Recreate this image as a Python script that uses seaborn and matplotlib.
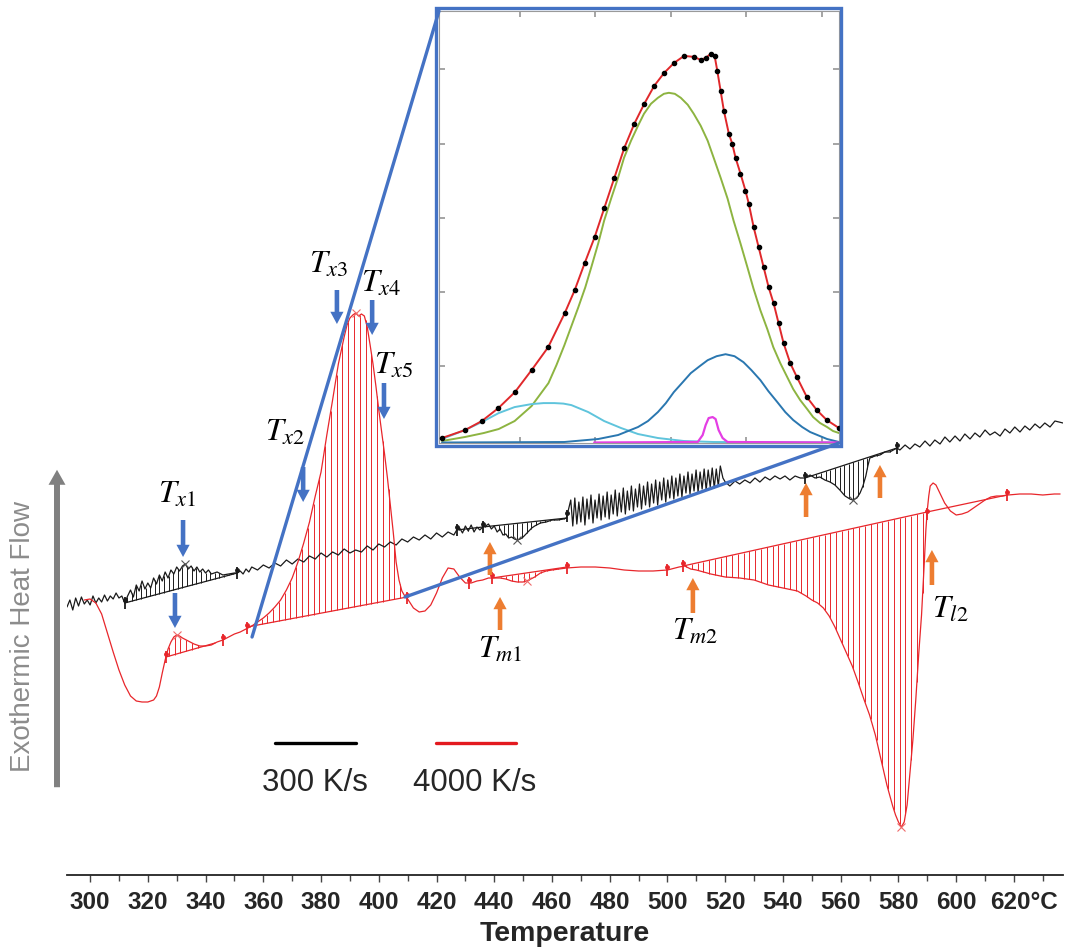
import numpy as np
import matplotlib
matplotlib.use("Agg")
import matplotlib.pyplot as plt
import seaborn as sns
from matplotlib.patches import FancyArrowPatch, ArrowStyle, Rectangle, ConnectionPatch
from matplotlib.lines import Line2D

# ---------------- data (temperature in degC, heat flow in arbitrary units) -------------
# 300 K/s curve (black), read piecewise
BLACK_T_A = list(range(292, 343))
BLACK_Y_A = [268, 275, 265, 277, 269, 278, 271, 275, 270, 279, 272, 277, 273, 280, 274, 279,
             276, 282, 277, 279, 272, 279, 285, 278, 290, 284, 294, 286, 292, 287, 297, 291,
             300, 294, 303, 297, 305, 301, 308, 304, 309, 311, 306, 309, 304, 308, 303, 306,
             302, 305, 301]
BLACK_T_B = [344, 346, 348, 350, 351, 352, 353, 354, 355, 356, 358, 360, 362, 364, 366, 368,
             370, 372, 374, 376, 378, 380, 382, 384, 386, 388, 390, 392, 394, 396, 398, 400,
             402, 404, 406, 408, 410, 412, 414, 416, 418, 420, 422, 424, 426]
BLACK_Y_B = [303, 300, 301, 302, 302, 304, 301, 306, 303, 308, 305, 310, 307, 312, 309, 315,
             311, 316, 313, 319, 316, 322, 318, 323, 320, 326, 322, 325, 323, 329, 325, 331,
             328, 333, 330, 336, 333, 338, 335, 340, 336, 342, 338, 343, 340]
BLACK_T_C = [427, 428, 429, 430, 431, 432, 433, 434, 435, 436, 437, 438, 439, 440, 441, 442,
             443, 444, 445, 446, 447, 448, 449, 450, 451, 452, 453, 454, 456, 458, 460, 462,
             464, 465]
BLACK_Y_C = [345, 347, 342, 349, 344, 350, 343, 348, 345, 348, 349, 351, 346, 349, 343, 346,
             340, 341, 337, 338, 336, 335, 336, 338, 341, 344, 347, 349, 352, 353, 355, 355,
             356, 357]
BLACK_T_D = [466.5, 467.2, 467.9, 468.6, 469.3, 470.0, 470.7, 471.4, 472.1, 472.8, 473.5,
             474.2, 474.9, 475.6, 476.3, 477.0, 477.7, 478.4, 479.1, 479.8, 480.5, 481.2,
             481.9, 482.6, 483.3, 484.0, 484.7, 485.4, 486.1, 486.8, 487.5, 488.2, 488.9,
             489.6, 490.3, 491.0, 491.7, 492.4, 493.1, 493.8, 494.5, 495.2, 495.9, 496.6,
             497.3, 498.0, 498.7, 499.4, 500.1, 500.8, 501.5, 502.2, 502.9, 503.6, 504.3,
             505.0, 505.7, 506.4, 507.1, 507.8, 508.5, 509.2, 509.9, 510.6, 511.3, 512.0,
             512.7, 513.4, 514.1, 514.8, 515.5, 516.2, 516.9, 517.6, 518.3]
BLACK_Y_D = [375, 349, 377, 351, 373, 353, 378, 350, 376, 356, 380, 352, 375, 357, 381, 355,
             379, 358, 383, 356, 380, 361, 385, 359, 382, 363, 387, 361, 384, 365, 389, 364,
             386, 368, 391, 366, 389, 370, 393, 368, 391, 372, 395, 370, 393, 375, 397, 373,
             395, 377, 399, 376, 397, 379, 401, 378, 399, 382, 403, 381, 401, 384, 405, 383,
             403, 386, 406, 385, 405, 388, 407, 387, 406, 389, 409]
BLACK_T_E = [519.2, 520, 521.6, 523.4, 525, 526.8, 528.6, 530.3, 532, 533.8, 535.5, 537.2,
             539, 540.7, 542.4, 544.2, 546, 547.6, 549.4, 551.1, 552.8, 554.5, 556.3, 558,
             559.7, 561.5, 563.2, 564.2, 565.6, 566.7, 567.7, 568.7, 569.4, 570.1, 571.9,
             573.6, 575.3, 577, 579.5, 580.5, 582.3, 584, 585.7, 587.4, 589.2, 590.9, 592.6,
             594.4, 596.1, 597.8, 599.6, 601.3, 603, 604.8, 606.5, 608.2, 610, 611.7, 613.4,
             615.2, 616.9, 618.6, 620.3, 622.1, 623.8, 625.5, 627.3, 629, 630.7, 632.5, 634.2,
             637]
BLACK_Y_E = [397, 393, 389, 394, 391, 395, 392, 397, 393, 398, 395, 399, 396, 399, 395, 399,
             397, 397, 400, 397, 398, 395, 393, 390, 385, 379, 376, 375, 377, 382, 389, 399,
             409, 417, 419, 420, 423, 423, 427, 425, 430, 426, 431, 428, 434, 429, 435, 431,
             438, 433, 439, 434, 441, 436, 442, 438, 445, 440, 443, 439, 446, 442, 448, 443,
             449, 445, 451, 447, 452, 448, 454, 452]

# 4000 K/s curve (red)
RED_T = [298, 300, 302, 304, 306, 308, 310, 312, 314, 316, 318, 320, 322, 323, 324, 325, 326,
         327, 328, 329, 330, 331, 332, 334, 336, 338, 340, 342, 344, 346, 348, 350, 352, 354,
         356, 358, 360, 362, 364, 366, 368, 370, 372, 374, 376, 378, 380, 382, 384, 386, 388,
         389, 390, 391, 392, 393, 394, 395, 396, 397, 398, 399, 400, 401, 402, 403, 404, 405,
         406, 407, 408, 409, 410, 412, 414, 416, 418, 420, 422, 424, 426, 428, 430, 432, 434,
         436, 438, 440, 442, 444, 446, 448, 450, 452, 454, 456, 458, 460, 465, 470, 475, 480,
         485, 490, 495, 500, 504, 506, 508, 510, 515, 520, 525, 530, 535, 540, 545, 548, 550,
         552, 554, 556, 558, 560, 562, 564, 566, 568, 570, 572, 574, 576, 578, 579, 580, 581,
         582, 583, 584, 585, 586, 587, 588, 589, 589.5, 590, 590.5, 591, 592, 593, 594, 595,
         596, 598, 600, 602, 604, 606, 608, 610, 612, 614, 616, 618, 622, 626, 630, 634, 636]
RED_Y = [275, 276, 272, 261, 242, 223, 205, 190, 179, 174, 173, 173, 175, 179, 188, 202, 215,
         226, 233, 238, 240, 239, 237, 234, 231, 229, 229, 230, 233, 235, 238, 241, 243, 246,
         249, 253, 257, 262, 268, 275, 285, 297, 313, 332, 353, 379, 403, 440, 475, 511, 538,
         550, 557, 560, 562, 559, 561, 559, 548, 530, 511, 489, 465, 443, 421, 397, 370, 343,
         313, 295, 284, 279, 276, 267, 263, 264, 270, 282, 297, 307, 306, 298, 292, 292, 294,
         295, 297, 297, 297, 296, 294, 293, 293, 295, 298, 302, 304, 305, 307, 308, 308, 307,
         305, 304, 304, 305, 308, 309, 306, 305, 301, 298, 297, 295, 290, 287, 284, 279, 275,
         272, 267, 259, 248, 235, 222, 209, 193, 176, 160, 140, 115, 90, 69, 60, 53, 48,
         53, 70, 102, 135, 175, 220, 260, 315, 345, 365, 379, 389, 392, 390, 384, 378,
         372, 364, 360, 361, 363, 367, 371, 375, 378, 379, 379, 380, 381, 381, 380, 381, 381]

# integration baselines: (T_start, y_start, T_end, y_end)
BLACK_BASELINES = [(312, 272, 351, 302), (427, 345, 436, 348), (436, 348, 465.2, 357),
                   (547.6, 397, 579.5, 427)]
RED_BASELINES = [(326.3, 218, 343.3, 232), (354.4, 248, 409.8, 278), (439.2, 297, 465.2, 308),
                 (505.4, 309, 589.9, 363)]
RED_EXTRA_LINE = (589.9, 363, 617.6, 380)
BLACK_LIMITS = [312, 351, 427, 436, 465.2, 547.6, 579.5]
RED_LIMITS = [326.3, 346.0, 354.4, 409.8, 431.2, 439.2, 465.2, 500.0, 505.4, 589.9, 617.6]
BLACK_PEAKS = [333, 448, 564.2]
RED_PEAKS = [330, 392, 451.3, 581]

# characteristic temperatures (arrows and labels)
DOWN_T = [332.2, 329.4, 373.8, 385.5, 397.7, 401.8]
DOWN_FROM = [355, 282, 408, 585, 575, 492]
DOWN_TO = [318, 247, 373, 551, 540, 456]
UP_T = [438.5, 442.0, 508.8, 548.0, 573.6, 591.6]
UP_FROM = [300, 245, 262, 358, 377, 290]
UP_TO = [333, 278, 297, 392, 410, 325]
LABEL_TEXT = [r"$T_{x1}$", r"$T_{x2}$", r"$T_{x3}$", r"$T_{x4}$", r"$T_{x5}$",
              r"$T_{m1}$", r"$T_{m2}$", r"$T_{l2}$"]
LABEL_T = [330.1, 367.5, 382.8, 400.8, 405.3, 442.0, 509.5, 597.8]
LABEL_Y = [380, 442, 610, 591, 509, 225, 243, 265]

TICKS = list(range(300, 621, 20))
TICK_LABELS = [str(t) for t in TICKS[:-1]] + ["620°C"]
SERIES_NAMES = ["300 K/s", "4000 K/s"]

# inset: peak deconvolution (arbitrary units)
FIT_X = [3, 26.3, 43, 59.7, 76.3, 93, 109.7, 126.3, 136.3, 146.3, 156.3, 166.3, 176.3, 186.3,
         196.3, 206.3, 216.3, 226.3, 236.3, 246.3, 256.3, 263, 268, 273, 277, 279.7, 283,
         286.3, 291.3, 294.7, 298, 303, 308, 311.3, 316.3, 321.3, 326.3, 331.3, 336.3, 341.3,
         346.3, 353, 359.7, 369.7, 379.7, 389.7, 402]
FIT_Y = [5, 13, 22, 35, 51, 73, 96, 130, 153, 180, 206, 236, 266, 296, 320, 340, 358, 371,
         381, 388, 387, 384, 386, 390, 388, 373, 353, 333, 310, 300, 286, 270, 253, 240, 216,
         196, 176, 156, 140, 120, 100, 80, 66, 46, 33, 23, 15]
GREEN_X = [3, 26, 45, 60, 76, 93, 110, 118, 126, 133, 140, 147, 153, 160, 166, 173, 180, 186,
           193, 200, 206, 213, 220, 226, 231, 237, 243, 250, 256, 263, 270, 276, 283, 290, 296,
           303, 310, 316, 323, 330, 336, 343, 350, 356, 363, 370, 376, 383, 390, 396, 402]
GREEN_Y = [2, 6, 10, 14, 22, 37, 60, 78, 98, 117, 136, 156, 176, 200, 223, 245, 266, 286,
           303, 318, 330, 340, 346, 350, 351, 350, 346, 339, 330, 318, 303, 286, 266, 245, 223,
           200, 176, 155, 133, 114, 96, 80, 66, 54, 43, 34, 26, 20, 16, 12, 10]
CYAN_X = [3, 26, 43, 60, 76, 93, 105, 116, 125, 133, 150, 166, 183, 200, 220, 246, 276, 402]
CYAN_Y = [4, 13, 21, 30, 36, 39, 40, 40, 39.5, 38, 31, 22, 15, 9, 5, 2, 1, 0.5]
BLUE_X = [3, 126, 160, 180, 200, 210, 220, 228, 236, 245, 253, 262, 270, 279, 288, 297, 306,
          314, 323, 331, 340, 348, 356, 365, 373, 390, 402]
BLUE_Y = [0.5, 1, 4, 8, 16, 22, 31, 40, 51, 61, 70, 77, 83, 87, 89, 87, 81, 73, 63, 52, 41,
          31, 23, 16, 11, 4, 1]
MAG_X = [156, 260, 265, 268, 271, 275, 278, 281, 285, 290, 402]
MAG_Y = [0.5, 1, 8, 18, 25, 26, 24, 13, 5, 1, 0.5]

# ---------------- styling ----------------
sns.set_theme(style="white")
plt.rcParams["font.family"] = ["Liberation Sans", "DejaVu Sans"]
plt.rcParams["mathtext.fontset"] = "stix"

C_BLACK = "#1a1a1a"
C_RED = "#e8262b"
C_BLUE = "#4472c4"
C_ORANGE = "#ed7d31"
C_GREY = "#808080"

W, H = 1069, 952
fig = plt.figure(figsize=(W / 100, H / 100), dpi=100, facecolor="white")
ax = fig.add_axes([66.7 / W, 77 / H, (1063 - 66.7) / W, 875 / H])
ax.set_xlim(291.9, 637.0)
ax.set_ylim(0, 875)

BLACK_T = BLACK_T_A + BLACK_T_B + BLACK_T_C + BLACK_T_D + BLACK_T_E
BLACK_Y = BLACK_Y_A + BLACK_Y_B + BLACK_Y_C + BLACK_Y_D + BLACK_Y_E

sns.lineplot(x=BLACK_T, y=BLACK_Y, ax=ax, color=C_BLACK, linewidth=0.9,
             estimator=None, sort=False, zorder=3)
sns.lineplot(x=RED_T, y=RED_Y, ax=ax, color=C_RED, linewidth=0.9,
             estimator=None, sort=False, zorder=3)


def hatch(xs, ys, base, step, color, lw):
    x0, y0, x1, y1 = base
    pos = np.arange(x0 + step / 2, x1, step)
    b = y0 + (pos - x0) * (y1 - y0) / (x1 - x0)
    c = np.interp(pos, xs, ys)
    ax.vlines(pos, b, c, color=color, lw=lw, zorder=2)
    ax.plot([x0, x1], [y0, y1], color=color, lw=0.9, zorder=3)


for b in BLACK_BASELINES:
    hatch(BLACK_T, BLACK_Y, b, 1.6, C_BLACK, 0.7)
for b in RED_BASELINES:
    hatch(RED_T, RED_Y, b, 2.0, C_RED, 0.7)
ax.plot(RED_EXTRA_LINE[0::2], RED_EXTRA_LINE[1::2], color=C_RED, lw=0.9, zorder=3)

# integration limit markers and peak markers
for lims, xs, ys, col in [(BLACK_LIMITS, BLACK_T, BLACK_Y, C_BLACK),
                          (RED_LIMITS, RED_T, RED_Y, C_RED)]:
    ly = np.interp(lims, xs, ys)
    ax.plot(lims, ly, ls="none", marker="|", ms=9, mew=1.3, color=col, zorder=4)
    ax.plot(lims, ly + 3, ls="none", marker="o", ms=2.5, color=col, zorder=4)
for pk, xs, ys, col in [(BLACK_PEAKS, BLACK_T, BLACK_Y, "#555555"),
                        (RED_PEAKS, RED_T, RED_Y, "#ef6a6a")]:
    ax.plot(pk, np.interp(pk, xs, ys), ls="none", marker="x", ms=6, mew=0.8,
            color=col, zorder=4)

# arrows
st = ArrowStyle.Simple(head_length=8.8, head_width=9.5, tail_width=3.3)
for xs, y0s, y1s, col in [(DOWN_T, DOWN_FROM, DOWN_TO, C_BLUE),
                          (UP_T, UP_FROM, UP_TO, C_ORANGE)]:
    for x, y0, y1 in zip(xs, y0s, y1s):
        ax.add_patch(FancyArrowPatch((x, y0), (x, y1), arrowstyle=st, mutation_scale=1,
                                     color=col, lw=0, shrinkA=0, shrinkB=0, zorder=6))
for t, x, y in zip(LABEL_TEXT, LABEL_T, LABEL_Y):
    ax.text(x, y, t, fontsize=23, ha="center", va="center", color="black", zorder=7)

# axes cosmetics
for s in ["left", "top", "right"]:
    ax.spines[s].set_visible(False)
ax.spines["bottom"].set_color("#222222")
ax.spines["bottom"].set_linewidth(1.3)
ax.set_yticks([])
ax.set_xticks(TICKS)
ax.set_xticks(list(range(300, 636, 10)), minor=True)
ax.set_xticklabels(TICK_LABELS[:-1] + [""], fontweight="bold", fontsize=17.5)
ax.tick_params(axis="x", which="both", bottom=True, direction="out", color="#444444",
               width=1.0, pad=6.5)
ax.tick_params(axis="x", which="major", length=5)
ax.tick_params(axis="x", which="minor", length=4)
ax.annotate(TICK_LABELS[-1], xy=(TICKS[-1], 0), xycoords=("data", "axes fraction"),
            xytext=(7.5, -11.5), textcoords="offset points", ha="center", va="top",
            fontsize=17.5, fontweight="bold")
ax.set_xlabel("Temperature", fontsize=20.5, fontweight="bold")
ax.xaxis.set_label_coords(0.5, -(934 - 875) / 875)
ax.xaxis.label.set_va("center")
ax.set_ylabel("")

# legend (manual, text under line)
fig.add_artist(Line2D([275 / W, 356 / W], [1 - 743 / H] * 2, color="black", lw=2.4))
fig.add_artist(Line2D([436 / W, 516 / W], [1 - 743 / H] * 2, color="#e3191f", lw=2.4))
fig.text(315 / W, 1 - 783 / H, SERIES_NAMES[0], ha="center", va="center", fontsize=22.5)
fig.text(475 / W, 1 - 783 / H, SERIES_NAMES[1], ha="center", va="center", fontsize=22.5)

# heat flow arrow
fig.add_artist(FancyArrowPatch((57 / W, 1 - 790 / H), (57 / W, 1 - 467 / H),
                               transform=fig.transFigure,
                               arrowstyle=ArrowStyle.Simple(head_length=10.8, head_width=12.2,
                                                            tail_width=4.3),
                               mutation_scale=1, color=C_GREY, lw=0))
fig.text(23 / W, 1 - 637 / H, "Exothermic Heat Flow", rotation=90, ha="center", va="center",
         fontsize=20, color="#8c8c8c")

# ---------------- inset ----------------
axin = fig.add_axes([439 / W, 1 - 443 / H, 400 / W, 432 / H])
axin.set_facecolor("white")
sns.lineplot(x=GREEN_X, y=GREEN_Y, ax=axin, color="#8db441", lw=1.4, estimator=None, sort=False)
sns.lineplot(x=CYAN_X, y=CYAN_Y, ax=axin, color="#5fc4dc", lw=1.4, estimator=None, sort=False)
sns.lineplot(x=BLUE_X, y=BLUE_Y, ax=axin, color="#2a77b0", lw=1.4, estimator=None, sort=False)
sns.lineplot(x=MAG_X, y=MAG_Y, ax=axin, color="#e43ee4", lw=1.6, estimator=None, sort=False)
sns.lineplot(x=FIT_X, y=FIT_Y, ax=axin, color="#e0282b", lw=1.4, estimator=None, sort=False)
axin.plot(FIT_X, FIT_Y, ls="none", marker="o", ms=3.0, color="black", zorder=5)
axin.set_xlim(0, 402)
axin.set_ylim(0, 433)
axin.set_xticks([81, 157, 233, 309, 385])
axin.set_yticks([77, 151, 226, 300, 375])
axin.tick_params(direction="in", length=4, color="#999999", bottom=True, left=True, top=True,
                 right=True, labelbottom=False, labelleft=False)
axin.set_xlabel("")
axin.set_ylabel("")
for s in axin.spines.values():
    s.set_color("#9a9a9a")
    s.set_linewidth(0.8)
fig.add_artist(Rectangle((436 / W, 1 - 445.5 / H), 405 / W, 437 / H, transform=fig.transFigure,
                         fill=False, ec=C_BLUE, lw=2.4))

# zoom connectors
for xyA, xyB in [((356.1, 238), (0, 1)), ((409.1, 278), (1, 0))]:
    fig.add_artist(ConnectionPatch(xyA=xyA, coordsA=ax.transData, xyB=xyB,
                                   coordsB=axin.transAxes, color=C_BLUE, lw=2.4))

fig.savefig("out.png", dpi=100, facecolor="white")
